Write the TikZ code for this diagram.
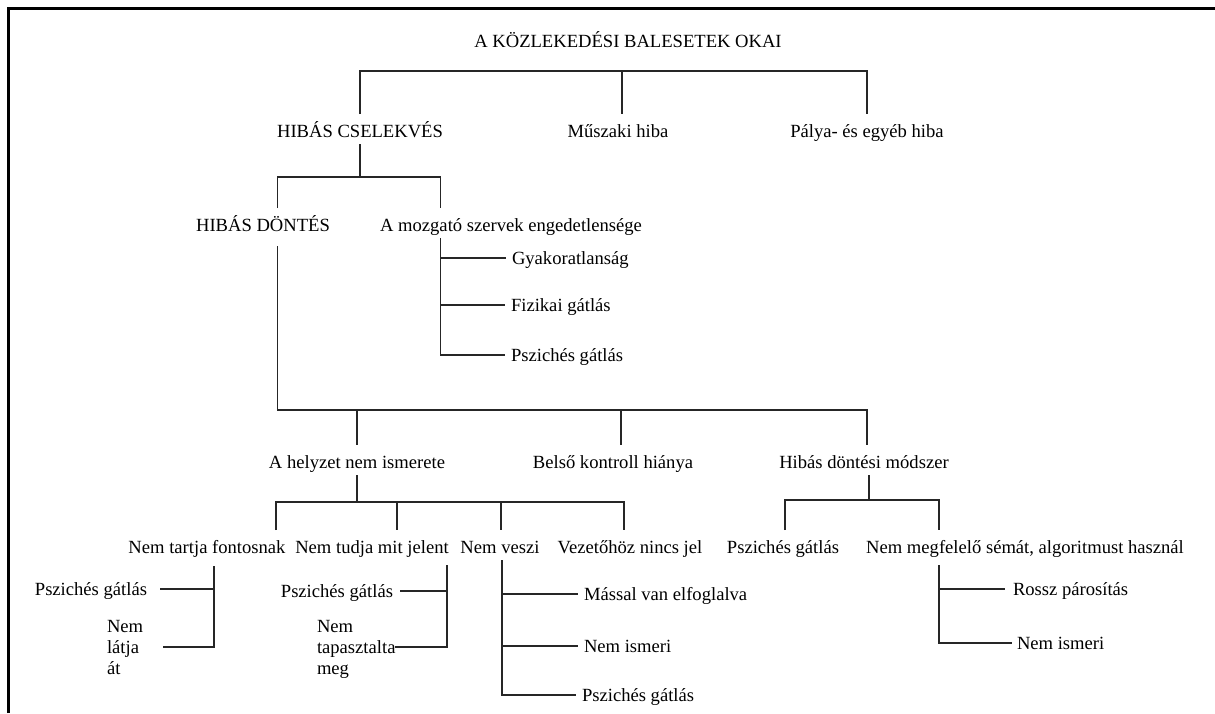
\documentclass[tikz,border=0pt]{standalone}
\usepackage{fontspec}
\setmainfont{Liberation Serif}
\begin{document}
\begin{tikzpicture}[x=1pt, y={(0pt,-1pt)},
  lbl/.style={inner sep=0pt, outer sep=0pt, text height=14.5pt, text depth=1.5pt,
              font=\fontsize{18.6}{21}\selectfont},
  multi/.style={inner sep=0pt, outer sep=0pt, align=left,
              font=\fontsize{18.6}{21}\selectfont},
  conn/.style={line width=1.3pt, draw=black!85, line join=miter},
  into/.style={conn, shorten >=9pt},
  outof/.style={conn, shorten <=5pt},
  bus/.style={conn, shorten <=9pt, shorten >=9pt},
  toleaf/.style={conn, shorten >=6pt},
  drop/.style={conn, shorten <=5pt, shorten >=6pt}
]
\useasboundingbox (0,0) rectangle (1215,713);

% frame
\draw[line width=3pt, line join=miter] (8.5,713) -- (8.5,8.5) -- (1215,8.5);

% columns of the vertical connector lines
\coordinate (xHD) at (277.5,0);
\coordinate (xMZ) at (440.5,0);
\coordinate (xBK) at (621,0);
\coordinate (xHM) at (867,0);
\coordinate (xNTF) at (276,0);
\coordinate (xNTM) at (397,0);
\coordinate (xNV) at (501,0);
\coordinate (xVZ) at (624,0);
\coordinate (xPS) at (785,0);
\coordinate (xNMS) at (939,0);
\coordinate (xSubA) at (214,0);
\coordinate (xSubB) at (447,0);
\coordinate (xSubC) at (502,0);

% level 0 and 1
\node[lbl] (title) at (628,41) {A KÖZLEKEDÉSI BALESETEK OKAI};
\node[lbl] (hc) at (360,131) {HIBÁS CSELEKVÉS};
\node[lbl] (mh) at (618,131) {Műszaki hiba};
\node[lbl] (ph) at (867,131) {Pálya- és egyéb hiba};
\coordinate (j1) at (622,71);
\draw[bus] (hc.north) |- (j1) -| (ph.north);
\draw[into] (j1) -- (j1 |- mh.north);

% level 2
\node[lbl] (hd) at (263,225) {HIBÁS DÖNTÉS};
\node[lbl] (mz) at (511,225) {A mozgató szervek engedetlensége};
\coordinate (j2) at (360,177);
\draw[outof] (hc.south) -- (j2);
\draw[bus] (hd.north -| xHD) |- (j2) -| (mz.north -| xMZ);

% motor organs branch
\node[lbl, anchor=west] (g1) at (512,258) {Gyakoratlanság};
\node[lbl, anchor=west] (f1) at (511,305) {Fizikai gátlás};
\node[lbl, anchor=west] (p1) at (511,355) {Pszichés gátlás};
\draw[drop] (mz.south -| xMZ) |- (p1.west);
\draw[toleaf] (xMZ |- g1.west) -- (g1.west);
\draw[toleaf] (xMZ |- f1.west) -- (f1.west);

% level 3
\node[lbl] (hn) at (357,462) {A helyzet nem ismerete};
\node[lbl] (bk) at (613,462) {Belső kontroll hiánya};
\node[lbl] (hm) at (864,462) {Hibás döntési módszer};
\coordinate (j3) at (621,410);
\draw[conn, shorten <=13pt, shorten >=9pt] (hd.south -| xHD) |- (j3) -| (hm.north -| xHM);
\draw[into] (hn.north |- j3) -- (hn.north);
\draw[into] (j3) -- (bk.north -| xBK);

% level 4 under the unknown situation
\node[lbl] (ntf) at (207,547) {Nem tartja fontosnak};
\node[lbl] (ntm) at (372,547) {Nem tudja mit jelent};
\node[lbl] (nv) at (500,547) {Nem veszi};
\node[lbl] (vz) at (630,547) {Vezetőhöz nincs jel};
\coordinate (j4) at (357,502);
\draw[outof] (hn.south) -- (j4);
\draw[bus] (ntf.north -| xNTF) |- (j4) -| (vz.north -| xVZ);
\draw[into] (xNTM |- j4) -- (ntm.north -| xNTM);
\draw[into] (xNV |- j4) -- (nv.north -| xNV);

% level 4 under the faulty decision method
\node[lbl] (ps2) at (783,547) {Pszichés gátlás};
\node[lbl] (nms) at (1025,547) {Nem megfelelő sémát, algoritmust használ};
\coordinate (j5) at (869,500);
\draw[outof] (hm.south -| j5) -- (j5);
\draw[bus] (ps2.north -| xPS) |- (j5) -| (nms.north -| xNMS);

% leaves of "Nem tartja fontosnak"
\node[lbl, anchor=east] (ps3) at (147,589) {Pszichés gátlás};
\node[multi, anchor=west] (nla) at (107,647) {Nem\\látja\\át};
\draw[conn, shorten <=11pt] (ntf.south -| xSubA) |- ([xshift=20pt]nla.east);
\draw[conn] (xSubA |- ps3.east) -- ([xshift=13pt]ps3.east);

% leaves of "Nem tudja mit jelent"
\node[lbl, anchor=east] (ps4) at (393,591) {Pszichés gátlás};
\node[multi, anchor=west] (npm) at (317,649) {Nem\\tapasztalta\\meg};
\draw[conn, shorten <=10pt] (ntm.south -| xSubB) |- ([yshift=2pt]npm.east);
\draw[conn] (xSubB |- ps4.east) -- ([xshift=7pt]ps4.east);

% leaves of "Nem veszi"
\node[lbl, anchor=west] (mv) at (584,594) {Mással van elfoglalva};
\node[lbl, anchor=west] (ni1) at (584,646) {Nem ismeri};
\node[lbl, anchor=west] (ps5) at (582,695) {Pszichés gátlás};
\draw[drop] (nv.south -| xSubC) |- (ps5.west);
\draw[toleaf] (xSubC |- mv.west) -- (mv.west);
\draw[toleaf] (xSubC |- ni1.west) -- (ni1.west);

% leaves of "Nem megfelelő sémát"
\node[lbl, anchor=west] (rp) at (1013,589) {Rossz párosítás};
\node[lbl, anchor=west] (ni2) at (1017,643) {Nem ismeri};
\draw[conn, shorten <=10pt, shorten >=5pt] (nms.south -| xNMS) |- (ni2.west);
\draw[conn, shorten >=8pt] (xNMS |- rp.west) -- (rp.west);
\end{tikzpicture}
\end{document}
